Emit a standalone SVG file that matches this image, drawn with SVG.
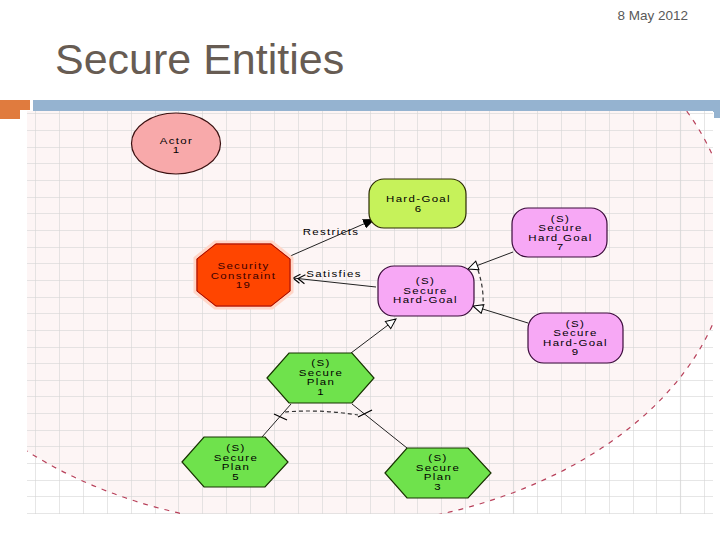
<svg xmlns="http://www.w3.org/2000/svg" width="720" height="540" viewBox="0 0 720 540">
<style>
.t{font-family:"Liberation Sans",Arial,sans-serif;font-size:8.5px;letter-spacing:1px;text-anchor:middle;fill:#000}
.ln{stroke:#222;stroke-width:1;fill:none}
.grid{stroke:#d6d6d6;stroke-width:1;fill:none;opacity:0.6}
.pink{fill:#f7a8f5;stroke:#3a0a3a;stroke-width:1.2}
.green{fill:#6fe24c;stroke:#173300;stroke-width:1.2}
</style>
<defs>
<clipPath id="img"><rect x="27" y="111" width="686" height="403"/></clipPath>
<marker id="filled" viewBox="0 0 12 10" refX="12" refY="5" markerWidth="12" markerHeight="10" markerUnits="userSpaceOnUse" orient="auto"><path d="M0,0 L12,5 L0,10 z" fill="#000"/></marker>
<marker id="open" viewBox="0 0 12 11" refX="11" refY="5.5" markerWidth="12" markerHeight="11" markerUnits="userSpaceOnUse" orient="auto"><path d="M1,1 L11,5.5 L1,10 z" fill="#fff" stroke="#000" stroke-width="1"/></marker>
<marker id="dbl" viewBox="0 0 14 11" refX="13" refY="5.5" markerWidth="14" markerHeight="11" markerUnits="userSpaceOnUse" orient="auto"><path d="M1,1 L8,5.5 L1,10 M6,1 L13,5.5 L6,10" fill="none" stroke="#000" stroke-width="1.1"/></marker>
</defs>
<rect width="720" height="540" fill="#fff"/>
<text x="688" y="20" font-family="'Liberation Sans',Arial,sans-serif" font-size="13.5" fill="#595959" text-anchor="end">8 May 2012</text>
<text x="55" y="74" font-family="'Liberation Sans',Arial,sans-serif" font-size="43" fill="#675c53">Secure Entities</text>
<rect x="0" y="100" width="30" height="19" fill="#e07b3e"/>
<rect x="20" y="110" width="693" height="405" fill="#fff"/>
<rect x="33" y="100" width="687" height="12" fill="#95b3d0"/>
<rect x="714" y="100" width="6" height="18" fill="#95b3d0"/>
<g id="background" clip-path="url(#img)">
<rect x="27" y="111" width="686" height="403" fill="#fff"/>
<ellipse cx="312" cy="240" rx="419" ry="288" fill="#fdf5f5"/>
<path class="grid" d="M35.5,111V514M59.5,111V514M83.5,111V514M107.5,111V514M131.5,111V514M155.5,111V514M178.5,111V514M202.5,111V514M226.5,111V514M250.5,111V514M274.5,111V514M298.5,111V514M322.5,111V514M346.5,111V514M370.5,111V514M394.5,111V514M417.5,111V514M441.5,111V514M465.5,111V514M489.5,111V514M513.5,111V514M537.5,111V514M561.5,111V514M585.5,111V514M609.5,111V514M633.5,111V514M656.5,111V514M680.5,111V514M704.5,111V514"/>
<path class="grid" d="M27,113.5H713M27,130.5H713M27,147.5H713M27,163.5H713M27,180.5H713M27,197.5H713M27,213.5H713M27,230.5H713M27,247.5H713M27,263.5H713M27,280.5H713M27,297.5H713M27,313.5H713M27,330.5H713M27,347.5H713M27,363.5H713M27,380.5H713M27,396.5H713M27,413.5H713M27,430.5H713M27,446.5H713M27,463.5H713M27,480.5H713M27,496.5H713M27,513.5H713"/>
<path d="M513.5,111V514M680.5,111V514" stroke="#d6d6d6" stroke-width="1.2" fill="none" opacity="0.5"/>
<ellipse cx="312" cy="240" rx="419" ry="288" fill="none" stroke="#b8405a" stroke-width="1.2" stroke-dasharray="5 6"/>
</g>
<g id="connectors">
<path class="ln" d="M288,257 L375,219" marker-end="url(#filled)"/>
<g transform="translate(331,0) scale(1.35,1)"><text class="t" x="0" y="235">Restricts</text></g>
<path class="ln" d="M376,287 L293,278" marker-end="url(#dbl)"/>
<g transform="translate(334,0) scale(1.35,1)"><text class="t" x="0" y="277">Satisfies</text></g>
<path class="ln" d="M513,252 L468,269" marker-end="url(#open)"/>
<path class="ln" d="M528,323 L473,306" marker-end="url(#open)"/>
<path d="M478,270 Q484,288 483,306" fill="none" stroke="#333" stroke-width="1.2" stroke-dasharray="4 3"/>
<path class="ln" d="M351,353 L396,319" marker-end="url(#open)"/>
<path class="ln" d="M291,404 L262,437"/>
<path class="ln" d="M352,404 L407,448"/>
<path d="M274,414 L287,420 M358,417 L372,410" stroke="#000" stroke-width="1.3" fill="none"/>
<path d="M285,412 Q320,409 358,415" fill="none" stroke="#333" stroke-width="1.2" stroke-dasharray="4 3"/>
</g>
<g id="actor-1">
<ellipse cx="176" cy="143.5" rx="44.5" ry="30.5" fill="#f8a9aa" stroke="#3a1010" stroke-width="1.2"/>
<g transform="translate(176.5,0) scale(1.35,1)"><text class="t" y="144"><tspan x="0">Actor</tspan><tspan x="0" dy="9.5">1</tspan></text></g>
</g>
<g id="hard-goal-6">
<rect x="369" y="179" width="97" height="49" rx="15" fill="#c6f25a" stroke="#2a2a00" stroke-width="1.2"/>
<g transform="translate(418.5,0) scale(1.35,1)"><text class="t" y="202.3"><tspan x="0">Hard-Goal</tspan><tspan x="0" dy="9.5">6</tspan></text></g>
</g>
<g id="security-constraint-19">
<polygon points="215,242 272,242 292,258 292,292 272,308 215,308 195,292 195,258" fill="#ff4500" stroke="#ffd6c8" stroke-width="3"/>
<polygon points="216,244 271,244 290,259 290,291 271,306 216,306 197,291 197,259" fill="none" stroke="#9a0a0a" stroke-width="1"/>
<g transform="translate(243.5,0) scale(1.35,1)"><text class="t" y="269.5" style="fill:#3a0000"><tspan x="0">Security</tspan><tspan x="0" dy="9.5">Constraint</tspan><tspan x="0" dy="9.5">19</tspan></text></g>
</g>
<g id="secure-hard-goal">
<rect x="378" y="266" width="96" height="50" rx="16" class="pink"/>
<g transform="translate(425.5,0) scale(1.35,1)"><text class="t" y="284.2"><tspan x="0">(S)</tspan><tspan x="0" dy="9.5">Secure</tspan><tspan x="0" dy="9.5">Hard-Goal</tspan></text></g>
</g>
<g id="secure-hard-goal-7">
<rect x="512" y="208" width="95" height="49" rx="16" class="pink"/>
<g transform="translate(560.5,0) scale(1.35,1)"><text class="t" y="221.8"><tspan x="0">(S)</tspan><tspan x="0" dy="9.5">Secure</tspan><tspan x="0" dy="9.5">Hard Goal</tspan><tspan x="0" dy="9.5">7</tspan></text></g>
</g>
<g id="secure-hard-goal-9">
<rect x="528" y="313" width="95" height="50" rx="16" class="pink"/>
<g transform="translate(575.5,0) scale(1.35,1)"><text class="t" y="327"><tspan x="0">(S)</tspan><tspan x="0" dy="9.5">Secure</tspan><tspan x="0" dy="9.5">Hard-Goal</tspan><tspan x="0" dy="9.5">9</tspan></text></g>
</g>
<g id="secure-plan-1">
<polygon points="267,378 289,353 352,353 374,378 352,403 289,403" class="green"/>
<g transform="translate(321,0) scale(1.35,1)"><text class="t" y="366.5"><tspan x="0">(S)</tspan><tspan x="0" dy="9.5">Secure</tspan><tspan x="0" dy="9.5">Plan</tspan><tspan x="0" dy="9.5">1</tspan></text></g>
</g>
<g id="secure-plan-5">
<polygon points="182,462 204,437 265,437 288,462 265,487 204,487" class="green"/>
<g transform="translate(236,0) scale(1.35,1)"><text class="t" y="451.3"><tspan x="0">(S)</tspan><tspan x="0" dy="9.5">Secure</tspan><tspan x="0" dy="9.5">Plan</tspan><tspan x="0" dy="9.5">5</tspan></text></g>
</g>
<g id="secure-plan-3">
<polygon points="385,473 407,448 468,448 491,473 468,498 407,498" class="green"/>
<g transform="translate(438,0) scale(1.35,1)"><text class="t" y="461.3"><tspan x="0">(S)</tspan><tspan x="0" dy="9.5">Secure</tspan><tspan x="0" dy="9.5">Plan</tspan><tspan x="0" dy="9.5">3</tspan></text></g>
</g>
</svg>
